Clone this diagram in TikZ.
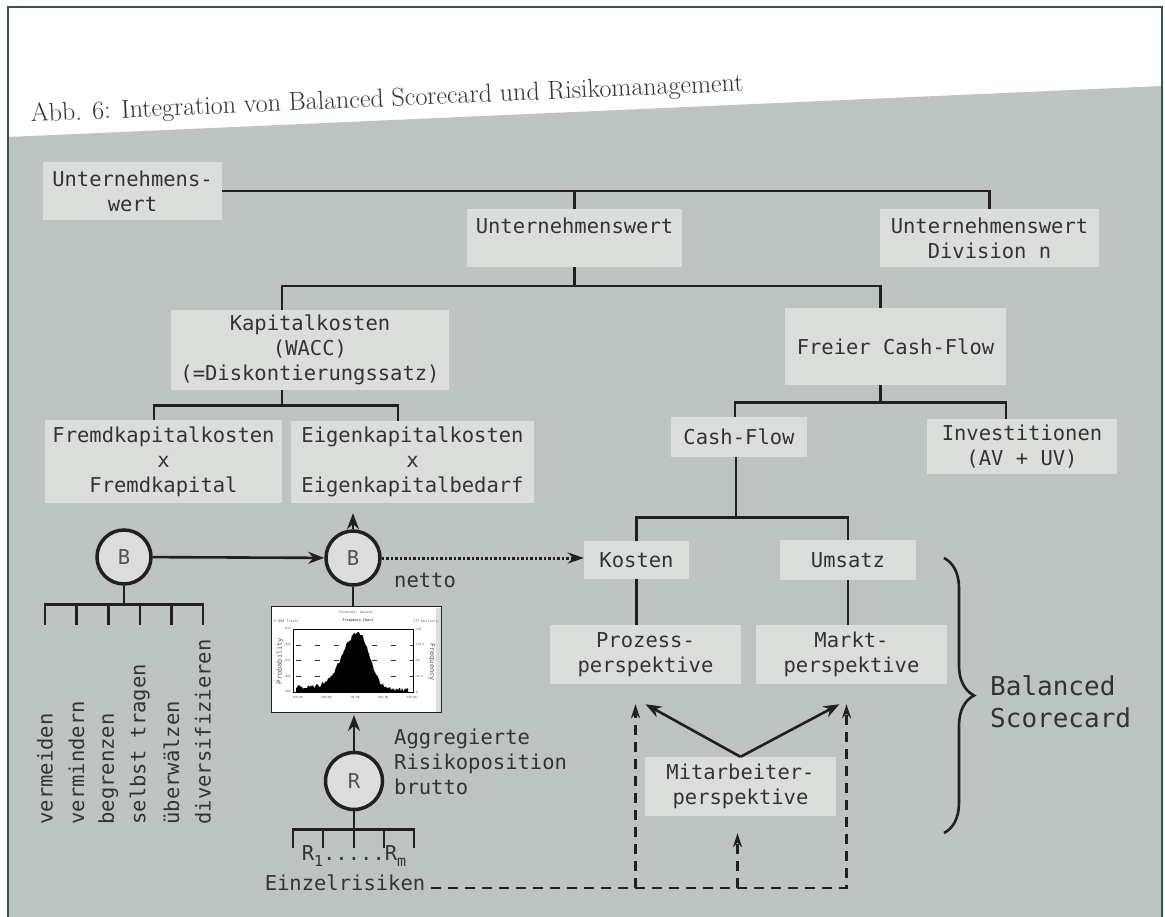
\documentclass[tikz,border=0pt]{standalone}
\usepackage{fontspec}
\newfontfamily\diafont{DejaVu Sans Mono}
\usetikzlibrary{arrows.meta,calc,decorations.pathreplacing}
\definecolor{hgrau}{HTML}{BEC4C2}
\definecolor{boxgrau}{HTML}{DCDEDB}
\definecolor{linie}{HTML}{231F20}
\definecolor{schrift}{HTML}{333333}
\definecolor{rahmen}{HTML}{2D5A4B}
\tikzstyle{ast} = [draw=linie,line width=2.6pt]
\tikzstyle{pfeil} = [ast,-{Stealth[length=16pt,width=12pt]}]
\tikzstyle{punkt} = [draw=linie,line width=3pt,dash pattern=on 2.5pt off 2pt,-{Stealth[length=16pt,width=11pt]}]
\tikzstyle{strich} = [draw=linie,line width=2.6pt,dash pattern=on 10pt off 7pt,-{Stealth[length=14pt,width=9pt]}]
\newcommand{\tief}[1]{\raisebox{-6pt}{\fontsize{15}{15}\selectfont #1}}

\begin{document}
\begin{tikzpicture}[x=1pt,y=-1pt,
    feld/.style={fill=boxgrau,text=schrift,align=center,inner sep=0pt,font=\diafont\fontsize{20.5}{25}\selectfont},
    kreis/.style={circle,draw=linie,line width=3.5pt,fill=boxgrau,minimum size=54pt,inner sep=0pt,text=schrift!85,font=\diafont\fontsize{20.5}{24}\selectfont},
    txt/.style={text=schrift,inner sep=0pt,font=\diafont\fontsize{20.5}{25}\selectfont},
    mini/.style={inner sep=0pt,text=black!65,font=\diafont\fontsize{3.4}{4}\selectfont}]
    % Hintergrund und Rahmen
    \useasboundingbox (0,0) rectangle (1165,917);
    \fill[white] (0,0) rectangle (1165,917);
    \fill[hgrau] (8,137) -- (1162,86) -- (1162,917) -- (8,917) -- cycle;
    \draw[rahmen,line width=2pt] (8,917) -- (8,7) -- (1162,7) -- (1162,917);
    \node[anchor=base west,rotate=2.5,inner sep=0pt,text=schrift,font=\fontsize{26}{26}\selectfont] (titel) at (31,122) {Abb. 6: Integration von Balanced Scorecard und Risikomanagement};

    % Werttreiberbaum
    \node[feld,minimum width=179pt,minimum height=58pt] (uw0) at (132.5,191) {Unternehmens-\\wert};
    \node[feld,minimum width=215pt,minimum height=58pt] (uw1) at (574.5,238) {Unternehmenswert\\\mbox{}};
    \node[feld,minimum width=219pt,minimum height=58pt] (uwn) at (989.5,238) {Unternehmenswert\\Division n};
    \node[feld,minimum width=278pt,minimum height=80pt] (kk) at (310,350) {Kapitalkosten\\(WACC)\\(=Diskontierungssatz)};
    \node[feld,minimum width=221pt,minimum height=77pt] (fcf) at (895.5,346.5) {Freier Cash-Flow};
    \node[feld,minimum width=237pt,minimum height=83pt] (fk) at (163.5,461.5) {Fremdkapitalkosten\\x\\Fremdkapital};
    \node[feld,minimum width=243pt,minimum height=82pt] (ek) at (412.5,462) {Eigenkapitalkosten\\x\\Eigenkapitalbedarf};
    \node[feld,minimum width=136pt,minimum height=40pt] (cf) at (739,437) {Cash-Flow};
    \node[feld,minimum width=190pt,minimum height=55pt] (inv) at (1022,446.5) {Investitionen\\(AV + UV)};
    \node[feld,minimum width=105pt,minimum height=38pt] (kos) at (636.5,560) {Kosten};
    \node[feld,minimum width=136pt,minimum height=40pt] (ums) at (848,560) {Umsatz};
    \node[feld,minimum width=191pt,minimum height=59pt] (pp) at (645.5,654.5) {Prozess-\\perspektive};
    \node[feld,minimum width=191pt,minimum height=59pt] (mp) at (851.5,654.5) {Markt-\\perspektive};
    \node[feld,minimum width=191pt,minimum height=59pt] (map) at (740.5,786.5) {Mitarbeiter-\\perspektive};

    % Unternehmenswert -> Divisionen
    \draw[ast] (uw0.east) -| (uwn.north);
    \draw[ast] (uw0.east -| uw1.north) -- (uw1.north);
    % Unternehmenswert -> Kapitalkosten, Freier Cash-Flow
    \draw[ast] (uw1.south) -- ++(0,19) coordinate (j1);
    \draw[ast] ([xshift=-28pt]kk.north) |- (j1) -| ([xshift=-15pt]fcf.north);
    % Kapitalkosten -> Fremd-/Eigenkapitalkosten
    \draw[ast] ([xshift=-28pt]kk.south) -- ++(0,15) coordinate (j2);
    \draw[ast] ([xshift=-9.5pt]fk.north) |- (j2) -| ([xshift=-14.5pt]ek.north);
    % Freier Cash-Flow -> Cash-Flow, Investitionen
    \draw[ast] ([xshift=-15pt]fcf.south) -- ++(0,17) coordinate (j3);
    \draw[ast] ([xshift=-4pt]cf.north) |- (j3) -| ([xshift=-16pt]inv.north);
    % Cash-Flow -> Kosten, Umsatz -> Perspektiven
    \draw[ast] ([xshift=-3pt]cf.south) -- ++(0,60) coordinate (j4);
    \draw[ast] (kos.north) |- (j4) -| (ums.north);
    \draw[ast] (kos.south) -- (kos.south |- pp.north);
    \draw[ast] (ums.south) -- (ums.south |- mp.north);

    % Risikomanagement
    \node[kreis] (bl) at (124,557) {B};
    \node[kreis] (br) at (353,558) {B};
    \node[kreis,minimum size=57pt] (rr) at (354,781) {R};
    \draw[pfeil] (bl) -- (br); % B -> B
    \draw[pfeil,shorten >=10pt] (br) -- (br |- ek.south); % B -> Eigenkapitalkosten
    \draw[punkt] (br.east) -- (br.east -| kos.west); % netto -> Kosten
    \node[txt,anchor=west] (netto) at (394,580) {netto};

    % Bewaeltigungsstrategien
    \draw[ast] (bl.south) -- ++(0,19) coordinate (j5);
    \draw[ast] ($(j5)+(-79,20)$) |- ($(j5)+(79,0)$) -- ++(0,20);
    \foreach \i in {1,...,4}
        \draw[ast] ($(j5)+(-79+31.6*\i,0)$) -- ++(0,20);
    \foreach \t [count=\i from 0] in {vermeiden,vermindern,begrenzen,selbst tragen,überwälzen,diversifizieren}
        \node[txt,rotate=90,anchor=west] (m\i) at ($(j5)+(-79+31.6*\i,220)$) {\t};

    % Verteilung (Simulation)
    \node[draw=linie,line width=1pt,fill=white,minimum width=170pt,minimum height=106pt,inner sep=0pt] (hist) at (356,659.5) {};
    \fill[boxgrau] (436,607.5) rectangle (440.5,711.5);
    \foreach \yy in {645,660.5,676}
        \draw[black!80,line width=1pt,dash pattern=on 5pt off 14pt] (296,\yy) -- (413,\yy);
    \pgfmathsetseed{7}
    \fill[black] (296,692) -- plot[domain=296:408,samples=113] (\x,{692-(\x<358 ? 58*exp(-((\x-358)^2)/420) : 58*exp(-((\x-358)^2)/250)) - 3*(\x<350) - 4*rnd}) -- (408,692) -- cycle;
    \draw[black,line width=0.8pt] (293,629) rectangle (413,692);
    \node[mini] (h1) at (356,612) {Forecast: Gewinn};
    \node[mini,anchor=west] (h2) at (274,621) {5.000 Trials};
    \node[mini,text=black] (h3) at (358,621) {Frequency Chart};
    \node[mini,anchor=east] (h4) at (438,621) {177 Outliers};
    \foreach \l [count=\i from 0] in {{,034},{,026},{,017},{,009},{,000}}
        \node[mini,anchor=east,font=\diafont\fontsize{2.8}{3}\selectfont] at (291,629+15.75*\i) {\l};
    \foreach \l [count=\i from 0] in {170,{127,5},85,{42,5},0}
        \node[mini,anchor=west,font=\diafont\fontsize{2.8}{3}\selectfont] at (416,629+15.75*\i) {\l};
    \foreach \l [count=\i from 0] in {{-350,00},{-200,00},{-50,00},{100,00},{250,00}}
        \node[mini,font=\diafont\fontsize{2.8}{3}\selectfont] at (297+28.7*\i,698) {\l};
    \node[mini,rotate=90,font=\diafont\fontsize{7}{7}\selectfont] (h5) at (280,661) {Probability};
    \node[mini,rotate=-90,font=\diafont\fontsize{7}{7}\selectfont] (h6) at (432,662) {Frequency};
    \draw[ast] (hist.north -| br) -- (br.south);
    \draw[pfeil,shorten >=2pt] (rr.north) -- (rr.north |- hist.south);
    \node[txt,anchor=west,align=left] (agg) at (394,762) {Aggregierte\\Risikoposition\\brutto};

    % Einzelrisiken
    \draw[ast] (rr.south) -- ++(0,18) coordinate (j6);
    \draw[ast] ($(j6)+(-61,19)$) |- ($(j6)+(60,0)$) -- ++(0,19);
    \foreach \dx in {-31,0,30}
        \draw[ast] ($(j6)+(\dx,0)$) -- ++(0,19);
    \node[txt] (rlab) at (354,856) {R\tief{1}.....R\tief{m}};
    \node[txt] (ez) at (345,883) {Einzelrisiken};

    % Einzelrisiken -> Perspektiven (gestrichelt)
    \coordinate (e0) at ([xshift=6pt,yshift=-5pt]ez.east);
    \coordinate (pz) at ([xshift=-10pt,yshift=-20pt]pp.south);
    \coordinate (mz) at ([xshift=-5pt,yshift=-20pt]mp.south);
    \coordinate (az) at ([xshift=-3pt,yshift=-17pt]map.south);
    \draw[strich] (e0) -| (mz);
    \draw[strich] (pz |- e0) -- (pz);
    \draw[strich] (az |- e0) -- (az);
    % Mitarbeiter -> Prozess, Markt
    \draw[pfeil] (map.north) -- ([yshift=-20pt]pp.south);
    \draw[pfeil] (map.north) -- ([xshift=-12pt,yshift=-20pt]mp.south);

    % Balanced Scorecard
    \coordinate (kl1) at (944,558);
    \coordinate (kl2) at (944,833);
    \draw[ast,decorate,decoration={brace,amplitude=30pt}] (kl1) -- (kl2);
    \node[txt,anchor=west,align=left,font=\diafont\fontsize{26}{32}\selectfont] (bsc) at (990,702) {Balanced\\Scorecard};
\end{tikzpicture}
\end{document}
